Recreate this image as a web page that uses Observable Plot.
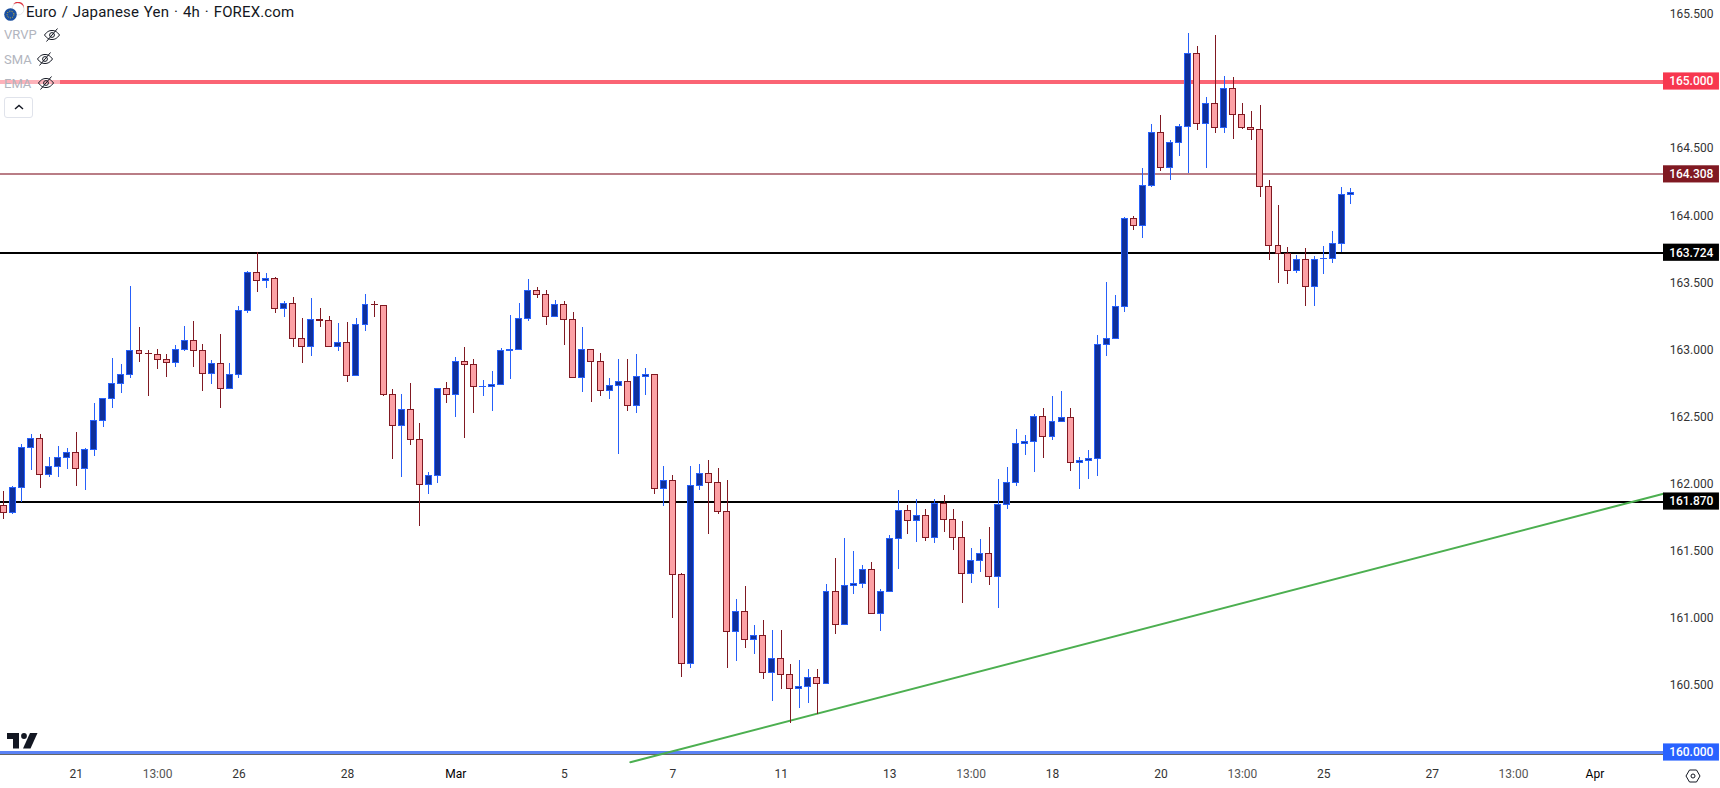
<!DOCTYPE html>
<html>
<head>
<meta charset="utf-8">
<script src="https://cdn.jsdelivr.net/npm/d3@7"></script>
<script src="https://cdn.jsdelivr.net/npm/@observablehq/plot@0.6"></script>
<style>
html,body{margin:0;padding:0;background:#fff;overflow:hidden}
#wrap{position:relative;width:1720px;height:788px;font-family:Roboto,sans-serif;overflow:hidden}
#wrap svg.plot{display:block}
.ov{position:absolute;white-space:nowrap}
.lg{color:#b2b5be;font-size:13px;left:4px;line-height:16px}
</style>
</head>
<body>
<div id="wrap"></div>
<script>
const open = [
161.835,161.786,161.972,162.270,162.334,162.069,162.128,162.195,162.230,162.113,
162.255,162.471,162.635,162.747,162.814,162.990,162.972,162.960,162.923,162.903,
163.000,163.065,162.990,162.821,162.893,162.710,162.814,163.291,163.572,163.514,
163.527,163.306,163.341,163.080,163.023,163.224,163.214,163.023,163.050,162.806,
163.186,163.335,163.326,162.662,162.434,162.551,162.328,161.994,162.061,162.707,
162.665,162.908,162.886,162.723,162.725,162.739,162.992,163.000,163.231,163.437,
163.408,163.246,163.333,163.221,162.792,162.998,162.908,162.695,162.732,162.759,
162.583,162.799,162.811,161.964,162.022,161.321,160.661,161.987,162.077,162.007,
161.793,160.897,161.046,160.840,160.867,160.594,160.695,160.579,160.474,160.489,
160.554,160.512,161.195,160.951,161.242,161.257,161.359,161.033,161.197,161.592,
161.798,161.726,161.761,161.600,161.851,161.731,161.597,161.331,161.428,161.478,
161.309,161.846,162.010,162.297,162.312,162.498,162.349,162.464,162.491,162.158,
162.173,162.188,163.037,163.082,163.321,163.974,163.924,164.220,164.615,164.357,
164.540,164.660,165.206,164.684,164.833,164.655,164.945,164.752,164.655,164.640,
164.215,163.775,163.716,163.589,163.671,163.470,163.674,163.678,163.790,164.155];
const high = [
161.945,161.982,162.295,162.369,162.369,162.198,162.280,162.265,162.384,162.265,
162.600,162.633,162.936,162.891,163.472,163.167,162.995,163.003,162.965,163.032,
163.174,163.211,163.040,162.921,163.114,162.898,163.323,163.584,163.726,163.569,
163.539,163.360,163.390,163.234,163.383,163.308,163.249,163.196,163.204,163.234,
163.413,163.360,163.330,162.705,162.667,162.749,162.451,162.086,162.707,162.757,
162.943,163.018,162.928,162.772,162.839,163.010,163.256,163.346,163.524,163.465,
163.442,163.368,163.360,163.278,163.167,162.998,162.973,162.787,162.928,162.928,
162.965,162.861,162.811,162.131,162.064,161.331,162.131,162.146,162.176,162.116,
162.027,161.140,161.237,160.946,160.984,160.909,160.909,160.656,160.686,160.618,
160.618,161.252,161.446,161.595,161.498,161.393,161.416,161.215,161.617,161.952,
161.841,161.885,161.811,161.885,161.915,161.811,161.721,161.520,161.587,161.677,
162.034,162.124,162.407,162.362,162.518,162.563,162.652,162.690,162.563,162.198,
162.250,163.107,163.502,163.405,163.986,163.994,164.349,164.679,164.747,164.560,
164.679,165.358,165.261,164.881,165.343,165.037,165.030,164.836,164.776,164.821,
164.262,164.076,163.763,163.703,163.755,163.696,163.770,163.882,164.210,164.203];
const low = [
161.736,161.773,161.863,162.101,161.967,162.049,162.049,162.108,161.982,161.952,
162.205,162.421,162.563,162.675,162.789,162.906,162.652,162.854,162.794,162.869,
162.988,162.869,162.690,162.742,162.563,162.710,162.789,163.271,163.427,163.457,
163.271,163.241,163.018,162.898,162.951,163.167,163.023,162.988,162.757,162.806,
163.137,163.241,162.652,162.183,162.049,162.287,161.684,161.922,162.004,162.600,
162.496,162.340,162.526,162.652,162.541,162.739,162.779,163.000,163.211,163.383,
163.182,163.246,163.033,162.792,162.682,162.608,162.652,162.630,162.220,162.541,
162.526,162.660,161.922,161.833,161.001,160.559,160.626,161.952,161.625,161.774,
160.626,160.678,160.775,160.730,160.544,160.380,160.469,160.216,160.328,160.365,
160.283,160.512,160.879,160.944,161.177,161.222,161.033,160.902,161.197,161.364,
161.625,161.565,161.572,161.557,161.639,161.505,161.110,161.259,161.341,161.244,
161.073,161.811,161.982,162.213,162.086,162.190,162.325,162.464,162.094,161.959,
162.034,162.056,162.950,163.082,163.278,163.890,163.830,164.210,164.329,164.262,
164.441,164.312,164.635,164.352,164.612,164.612,164.568,164.642,164.560,164.136,
163.666,163.495,163.487,163.569,163.323,163.323,163.562,163.644,163.726,164.083];
const close = [
161.786,161.969,162.267,162.334,162.069,162.126,162.193,162.230,162.113,162.253,
162.469,162.633,162.744,162.811,162.990,162.970,162.968,162.926,162.903,162.998,
163.065,162.993,162.821,162.893,162.710,162.811,163.288,163.572,163.514,163.527,
163.306,163.341,163.082,163.023,163.224,163.216,163.023,163.050,162.806,163.184,
163.333,163.331,162.665,162.434,162.551,162.330,161.994,162.059,162.707,162.665,
162.908,162.888,162.725,162.727,162.737,162.990,162.996,163.229,163.437,163.410,
163.246,163.333,163.224,162.792,162.998,162.911,162.695,162.729,162.759,162.583,
162.797,162.811,161.964,162.022,161.324,160.661,161.987,162.077,162.010,161.793,
160.897,161.046,160.840,160.867,160.594,160.695,160.579,160.474,160.487,160.554,
160.512,161.195,160.951,161.239,161.254,161.359,161.033,161.195,161.590,161.798,
161.726,161.761,161.600,161.851,161.734,161.600,161.331,161.426,161.478,161.309,
161.843,162.007,162.298,162.315,162.498,162.349,162.461,162.491,162.158,162.170,
162.185,163.037,163.080,163.318,163.976,163.924,164.220,164.615,164.357,164.540,
164.660,165.206,164.684,164.833,164.655,164.945,164.752,164.655,164.640,164.215,
163.775,163.716,163.589,163.671,163.470,163.671,163.678,163.790,164.155,164.170];

// Time axis: bar index of each labelled tick
const tickBars   = [8,17,26,38,50,62,74,86,98,107,116,128,137,146,158,167,176];
const tickLabels = ["21","13:00","26","28","Mar","5","7","11","13","13:00","18","20","13:00","25","27","13:00","Apr"];

// Price axis
const priceTicks = [160.5,161,161.5,162,162.5,163,163.5,164,164.5,165.5];

// Horizontal levels
const levelPrices = [165,164.308,163.724,161.870,160];

// Trend line
const trendBars   = [69.3,183.59];
const trendPrices = [159.928,161.928];

// ---- styles, kept apart from the data ----
const levelStroke = ["#fb6474","#b97d86","#000000","#000000","#5a82f5"];
const levelWidth  = [4,2,2,2,4];
const tagFill     = ["#f7374f","#801922","#000000","#000000","#2962ff"];
const upBody="#0e309c", upLine="#2660fa", downBody="#fca1a5", downLine="#801922";
const paneEnd = 183.59, domainStart = -0.376, tagEnd = 189.78, tagText = 189.11, tagHalf = 0.064;

const bars = d3.range(open.length).map(i => ({i, o:open[i], h:high[i], l:low[i], c:close[i], up:close[i]>=open[i]}));
const levels = levelPrices.map((p,k)=>({p,k}));
const trend = trendBars.map((b,k)=>({b,p:trendPrices[k]}));

const chart = Plot.plot({
  width:1720, height:788,
  marginLeft:0, marginRight:57, marginTop:0, marginBottom:26,
  style:{fontFamily:"Roboto, sans-serif", fontSize:"12px", background:"#fff", overflow:"hidden"},
  x:{domain:[domainStart,paneEnd], range:[0,1663]},
  y:{domain:[159.9255,165.6036]},
  marks:[
    // levels under candles
    Plot.ruleY(levels,{y:"p",x1:domainStart,x2:paneEnd,stroke:d=>levelStroke[d.k],strokeWidth:d=>levelWidth[d.k],shapeRendering:"crispEdges"}),
    Plot.ruleY([159.985],{x1:domainStart,x2:paneEnd,stroke:"#666",strokeWidth:1,shapeRendering:"crispEdges"}),
    Plot.line(trend,{x:"b",y:"p",stroke:"#4caf50",strokeWidth:2}),
    // wicks
    Plot.ruleX(bars,{x:"i",y1:"l",y2:"h",stroke:d=>d.up?upLine:downLine,strokeWidth:1,shapeRendering:"crispEdges"}),
    // bodies
    Plot.rect(bars,{x1:d=>d.i-0.33,x2:d=>d.i+0.33,y1:"o",y2:"c",fill:d=>d.up?upBody:downBody,stroke:d=>d.up?upLine:downLine,strokeWidth:1,shapeRendering:"crispEdges"}),
    // axes
    Plot.axisY(priceTicks,{anchor:"right",tickSize:0,tickPadding:50,textAnchor:"end",tickFormat:d=>d.toFixed(3),label:null,fill:"#333",fontSize:12}),
    Plot.axisX(tickBars,{anchor:"bottom",tickSize:0,tickPadding:7,label:null,fontSize:12,
      tickFormat:d=>tickLabels[tickBars.indexOf(d)],
      fill:d=>{const s=tickLabels[tickBars.indexOf(d)];return s.includes(":")?"#555":/[A-Za-z]/.test(s)?"#000":"#333";}}),
    // price tags
    Plot.rect(levels,{x1:paneEnd,x2:tagEnd,y1:d=>d.p-tagHalf,y2:d=>d.p+tagHalf,fill:d=>tagFill[d.k]}),
    Plot.text(levels,{x:tagText,y:"p",text:d=>d.p.toFixed(3),textAnchor:"end",fill:"#fff",fontSize:12,fontWeight:500})
  ]
});
const wrap = document.getElementById("wrap");
wrap.appendChild(chart);

const eye = (x,y)=>`<svg class="ov" style="left:${x-9}px;top:${y-9}px" width="18" height="18" viewBox="0 0 18 18" fill="none" stroke="#131722" stroke-width="1"><path d="M1.5 9C4 5.5 6.3 4.5 9 4.5S14 5.5 16.5 9C14 12.5 11.7 13.5 9 13.5S4 12.5 1.5 9z"/><circle cx="9" cy="9" r="2.4"/><path d="M3.5 15.5L14.5 2.5"/></svg>`;
wrap.insertAdjacentHTML("beforeend",`
<div class="ov" style="left:0;top:73px;width:60px;height:17px;background:rgba(255,255,255,.5)"></div>
<svg class="ov" style="left:3px;top:2px" width="22" height="20" viewBox="0 0 22 20">
  <circle cx="15" cy="7" r="6" fill="#fff" stroke="#e8e8e8"/><path d="M10 2.5A6 6 0 0 1 21 6 7 7 0 0 0 10 2.5z" fill="#e0323f"/>
  <circle cx="7.5" cy="12.5" r="6.3" fill="#1a4fa0"/><circle cx="7.5" cy="12.5" r="3.4" fill="none" stroke="#f0c419" stroke-width="1" stroke-dasharray="1 1.4"/>
</svg>
<div class="ov" style="left:26px;top:2px;font-size:15px;line-height:20px;color:#131722;word-spacing:1px;letter-spacing:.15px">Euro&nbsp;/ Japanese Yen · 4h · FOREX.com</div>
<div class="ov lg" style="top:27px">VRVP</div>
<div class="ov lg" style="top:52px">SMA</div>
<div class="ov lg" style="top:76px">EMA</div>
${eye(52,35)}${eye(45,59)}${eye(46,83)}
<div class="ov" style="left:4px;top:97px;width:27px;height:19px;border:1px solid #e0e3eb;border-radius:3px;background:#fff"></div>
<svg class="ov" style="left:12px;top:102px" width="14" height="10" viewBox="0 0 14 10" fill="none" stroke="#131722" stroke-width="1.4"><path d="M3 7L7 3.5L11 7"/></svg>
<svg class="ov" style="left:7px;top:733px" width="31" height="16" viewBox="0 0 31 16" fill="#131722">
  <path d="M0 0H12V15.5H6V6H0z"/><circle cx="17" cy="3" r="2.9"/><path d="M23 0H30.5L23.5 15.5H16z"/>
</svg>
<svg class="ov" style="left:1683px;top:766px" width="20" height="20" viewBox="0 0 20 20" fill="none" stroke="#131722" stroke-width="1"><path d="M3 10L6.5 4H13.5L17 10L13.5 16H6.5z"/><circle cx="10" cy="10" r="2"/></svg>
`);
</script>
</body>
</html>
